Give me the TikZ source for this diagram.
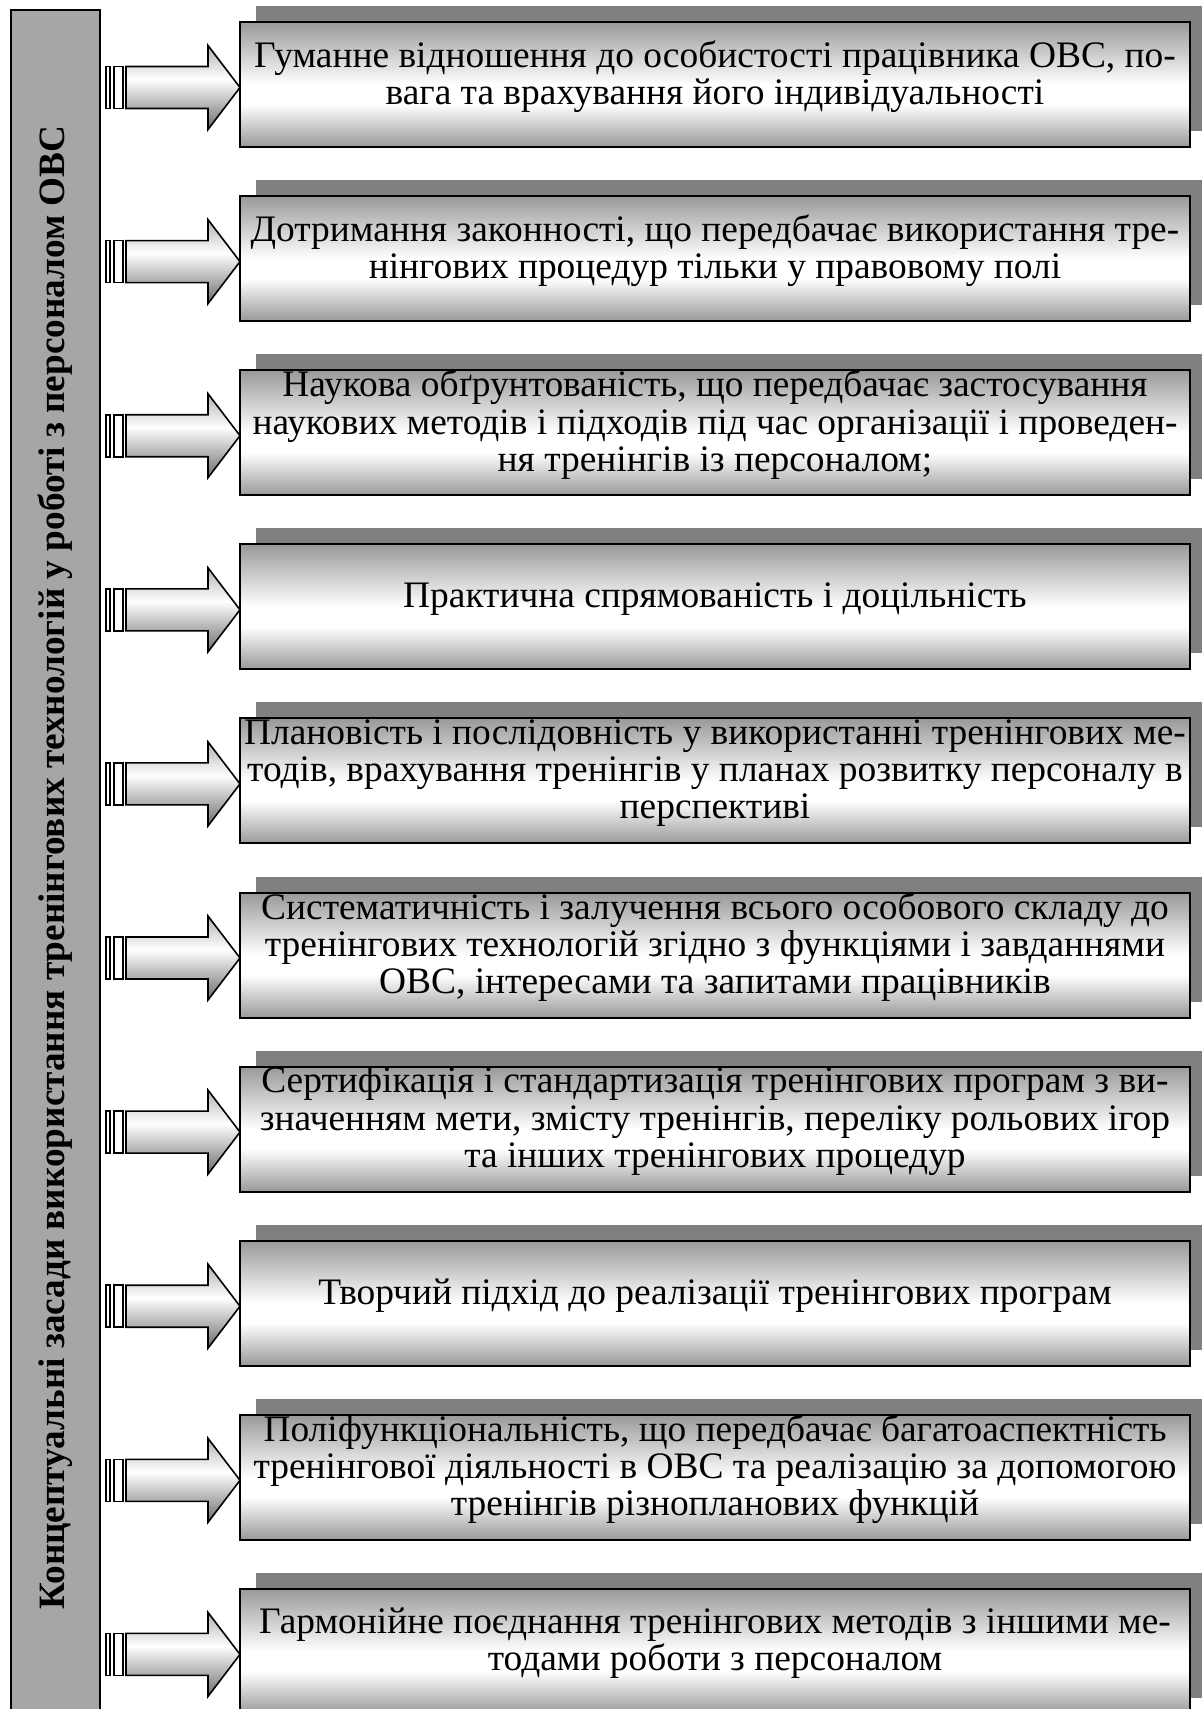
\documentclass[tikz,border=0pt]{standalone}
\usepackage{fontspec}
\setmainfont{Liberation Serif}
\usetikzlibrary{positioning,shadows}
\pgfdeclareverticalshading{boxshade}{100bp}{color(0bp)=(gray!80); color(25bp)=(gray!80); color(42bp)=(white); color(50bp)=(white); color(75bp)=(gray!80); color(100bp)=(gray!80)}
\pgfdeclareverticalshading{arrowshade}{100bp}{color(0bp)=(black!58); color(25bp)=(black!58); color(55bp)=(white); color(75bp)=(black!30); color(100bp)=(black!30)}

\begin{document}
\begin{tikzpicture}[x=0.5pt, y=-0.5pt, node distance=24.55pt, line width=1pt,
    item/.style={draw, shading=boxshade, minimum width=475pt, minimum height=62.5pt, inner sep=0pt, outer sep=0pt,
        drop shadow={shadow xshift=8pt, shadow yshift=8pt, fill=black!50, opacity=1}},
    itemtext/.style={align=center, inner sep=0pt, font=\fontsize{18.7}{18.6}\selectfont},
    arrowbody/.style={draw, line width=0.8pt, shading=arrowshade},
    stripe/.style={draw, fill=white, line width=0.8pt},
    bar/.style={draw, fill=gray!70, rotate=90, minimum width=857.5pt, minimum height=44.5pt, inner sep=0pt,
        font=\bfseries\fontsize{18.6}{18.6}\selectfont}]
    \useasboundingbox (0,0) rectangle (1201,1709);
    \node[bar] (bar) at (55.5,867.5) {Концептуальні засади використання тренінгових технологій у роботі з персоналом ОВС};

    \node[item] (b1) at (715,84.5) {};
    \node[item, below=of b1] (b2) {};
    \node[item, below=of b2] (b3) {};
    \node[item, below=of b3] (b4) {};
    \node[item, below=of b4] (b5) {};
    \node[item, below=of b5] (b6) {};
    \node[item, below=of b6] (b7) {};
    \node[item, below=of b7] (b8) {};
    \node[item, below=of b8] (b9) {};
    \node[item, below=of b9] (b10) {};

    \node[itemtext] (t1) at ([yshift=4pt]b1) {Гуманне відношення до особистості працівника ОВС, по-\\вага та врахування його індивідуальності};
    \node[itemtext] (t2) at ([yshift=4pt]b2) {Дотримання законності, що передбачає використання тре-\\нінгових процедур тільки у правовому полі};
    \node[itemtext] (t3) at ([yshift=4pt]b3) {Наукова обґрунтованість, що передбачає застосування\\наукових методів і підходів під час організації і проведен-\\ня тренінгів із персоналом;};
    \node[itemtext] (t4) at ([yshift=4pt]b4) {Практична спрямованість і доцільність};
    \node[itemtext] (t5) at ([yshift=4pt]b5) {Плановість і послідовність у використанні тренінгових ме-\\тодів, врахування тренінгів у планах розвитку персоналу в\\перспективі};
    \node[itemtext] (t6) at ([yshift=4pt]b6) {Систематичність і залучення всього особового складу до\\тренінгових технологій згідно з функціями і завданнями\\ОВС, інтересами та запитами працівників};
    \node[itemtext] (t7) at ([yshift=4pt]b7) {Сертифікація і стандартизація тренінгових програм з ви-\\значенням мети, змісту тренінгів, переліку рольових ігор\\та інших тренінгових процедур};
    \node[itemtext] (t8) at ([yshift=4pt]b8) {Творчий підхід до реалізації тренінгових програм};
    \node[itemtext] (t9) at ([yshift=4pt]b9) {Поліфункціональність, що передбачає багатоаспектність\\тренінгової діяльності в ОВС та реалізацію за допомогою\\тренінгів різнопланових функцій};
    \node[itemtext] (t10) at ([yshift=4pt]b10) {Гармонійне поєднання тренінгових методів з іншими ме-\\тодами роботи з персоналом};

    % block arrows from the bar to every box
    \foreach \i in {1,...,10} {
        \coordinate (tip\i) at ([yshift=-1.5pt]b\i.west);
        \draw[arrowbody] (tip\i) -- ++(-32,-42) -- ++(0,21) -- ++(-82,0) -- ++(0,42) -- ++(82,0) -- ++(0,21) -- cycle;
        \draw[stripe] ([shift={(-126,-21)}]tip\i) rectangle ([shift={(-117,21)}]tip\i);
        \draw[stripe] ([shift={(-134,-21)}]tip\i) rectangle ([shift={(-130,21)}]tip\i);
    }
\end{tikzpicture}
\end{document}
